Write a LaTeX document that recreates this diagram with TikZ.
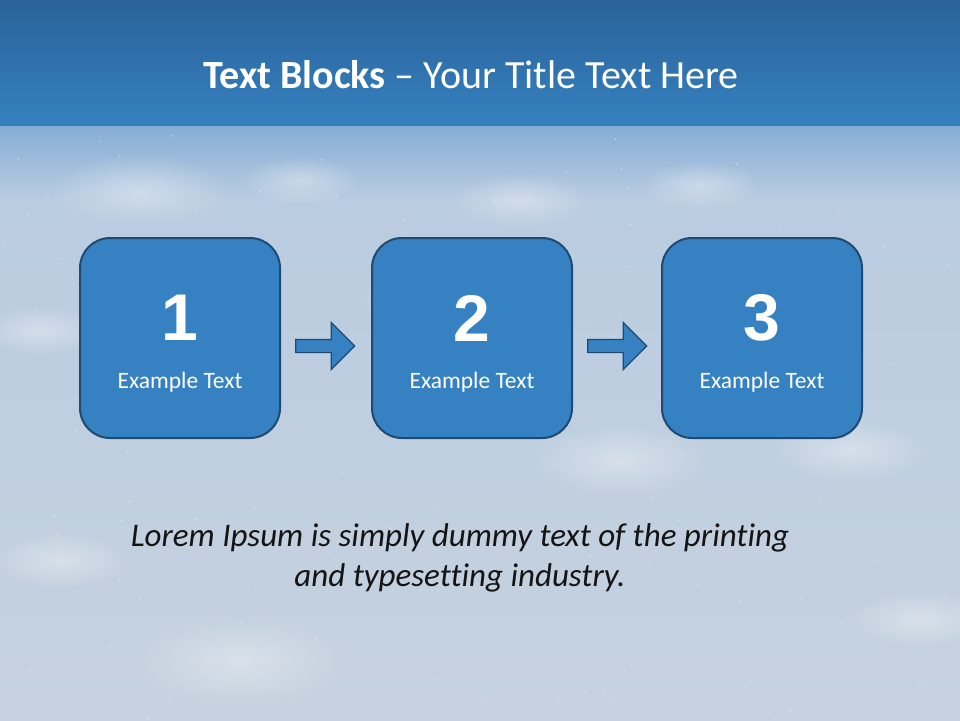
\documentclass[tikz,border=0pt]{standalone}
\usepackage{fontspec}
\setmainfont{Carlito}[Ligatures=NoCommon]
\newfontfamily\numfont{Liberation Sans}
\usetikzlibrary{shapes.arrows,fadings}
\definecolor{bandtop}{HTML}{2A6299}
\definecolor{bandbot}{HTML}{3581C0}
\definecolor{skya}{HTML}{86ADD6}
\definecolor{skyb}{HTML}{BACCE0}
\definecolor{skyc}{HTML}{C6D2DF}
\definecolor{boxfill}{HTML}{3581C1}
\definecolor{boxline}{HTML}{1F4A72}
\tikzfading[name=glow, inner color=transparent!0, outer color=transparent!100]
\tikzset{
  stepbox/.style={draw=boxline, line width=2pt, fill=boxfill, rounded corners=30pt,
    minimum width=200pt, minimum height=200pt, inner sep=0pt},
  numtext/.style={text=white, font=\numfont\bfseries\fontsize{66}{66}\selectfont},
  labtext/.style={text=white, font=\fontsize{23.5}{28}\selectfont},
  flowarrow/.style={draw=boxline, line width=1.2pt, fill=boxfill, single arrow,
    single arrow head extend=17pt, minimum height=59pt, minimum width=47pt, inner sep=0pt},
}
\begin{document}
\begin{tikzpicture}[x=1pt,y=-1pt]
\useasboundingbox (0,0) rectangle (960,720);
% background
\fill[top color=bandtop, bottom color=bandbot] (0,0) rectangle (960,126);
\fill[top color=skya, bottom color=skyb] (0,126) rectangle (960,200);
\fill[top color=skyb, bottom color=skyc] (0,200) rectangle (960,720);
% soft glows
\foreach \gx/\gy/\gw in {140/190/90, 300/180/60, 520/200/70, 700/185/60, 850/450/80, 240/660/110, 40/330/60, 620/460/90, 920/620/70, 420/300/60, 60/560/70}{
  \fill[white, opacity=0.35, path fading=glow] (\gx,\gy) ellipse ({\gw} and {\gw*0.4});
}
% stars
\pgfmathsetseed{7}
\foreach \i in {1,...,140}{
  \pgfmathsetmacro{\sx}{rnd*960}
  \pgfmathsetmacro{\sy}{130+rnd*590}
  \fill[white, opacity=0.7] (\sx,\sy) circle (0.7);
}
% title
\node (title) at (471,75) {\fontsize{40}{46}\selectfont\color{white}\textbf{Text Blocks} – Your Title Text Here};
% boxes
\node[stepbox] (b1) at (180,338) {};
\node[stepbox] (b2) at (472,338) {};
\node[stepbox] (b3) at (762,338) {};
\foreach \b/\n in {b1/1, b2/2, b3/3}{
  \node[numtext] (\b n) at ([yshift=20pt]\b.center) {\n};
  \node[labtext] (\b t) at ([yshift=-44pt]\b.center) {Example Text};
}
% arrows
\node[flowarrow] (a1) at ([xshift=41pt,yshift=-8pt]b1.east) {\phantom{\rule{20pt}{12pt}}};
\node[flowarrow] (a2) at ([xshift=41pt,yshift=-8pt]b2.east) {\phantom{\rule{20pt}{12pt}}};
% lorem
\node[align=center, font=\itshape\fontsize{33}{40}\selectfont, text=black!92] (lorem) at (460,558)
  {Lorem Ipsum is simply dummy text of the printing\\and typesetting industry.};
\end{tikzpicture}
\end{document}
